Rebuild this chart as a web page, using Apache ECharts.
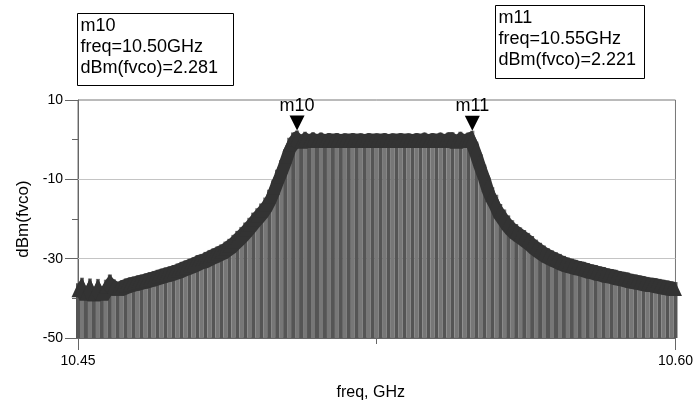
<!DOCTYPE html>
<html>
<head>
<meta charset="utf-8">
<script src="https://cdn.jsdelivr.net/npm/echarts@6/dist/echarts.min.js"></script>
<style>
  html, body { margin: 0; padding: 0; background: #fff; }
  #chart { width: 696px; height: 410px; }
</style>
</head>
<body>
<div id="chart"></div>
<script>
// spectrum, one point per MHz from 10.450 to 10.600 GHz
const freqStart = 10.45;
const freqStep = 0.001;
const dbm = [
  -36.2, -34.8, -37.0, -35.0, -37.2, -35.1, -37.0, -35.3, -34.0, -35.2,
  -35.8, -35.4, -35.0, -34.7, -34.5, -34.2, -34.0, -33.7, -33.4, -33.1,
  -32.8, -32.5, -32.2, -31.9, -31.6, -31.2, -30.8, -30.4, -30.0, -29.6,
  -29.1, -28.8, -28.3, -27.8, -27.4, -26.9, -26.4, -25.7, -25.0, -24.0,
  -23.0, -22.0, -20.9, -19.7, -18.4, -17.3, -16.1, -14.6, -12.6, -10.2,
  -7.6, -5.1, -2.5, 0.5, 1.8, 2.28, 1.3, 2.0, 1.4, 1.9,
  1.4, 1.8, 1.4, 1.7, 1.5, 1.7, 1.4, 1.6, 1.5, 1.7,
  1.5, 1.6, 1.4, 1.7, 1.5, 1.6, 1.5, 1.7, 1.4, 1.6,
  1.5, 1.7, 1.5, 1.6, 1.4, 1.7, 1.5, 1.8, 1.4, 1.7,
  1.5, 1.8, 1.4, 1.9, 1.9, 1.3, 2.0, 1.4, 1.8, 2.22,
  -0.5, -3.6, -6.3, -9.6, -12.0, -13.9, -16.2, -17.6, -19.1, -20.3,
  -21.3, -22.1, -22.8, -23.5, -24.3, -25.2, -26.0, -26.7, -27.4, -27.9,
  -28.4, -28.8, -29.3, -29.7, -30.0, -30.3, -30.6, -30.8, -31.1, -31.4,
  -31.6, -31.9, -32.1, -32.4, -32.6, -32.8, -33.1, -33.3, -33.5, -33.8,
  -34.0, -34.2, -34.4, -34.6, -34.8, -34.9, -35.1, -35.3, -35.5, -35.7, -35.9
];

// markers
const markerNames = ['m10', 'm11'];
const markerFreq = [10.505, 10.549];
const markerVal = [2.281, 2.221];
const markerText = [
  'm10\nfreq=10.50GHz\ndBm(fvco)=2.281',
  'm11\nfreq=10.55GHz\ndBm(fvco)=2.221'
];

// axes
const xMin = 10.45, xMax = 10.60;
const xLabelTicks = [10.45, 10.60];
const xMinorTicks = [10.525];
const yMin = -50, yMax = 10;
const yLabelTicks = [10, -10, -30, -50];
const yMinorTicks = [0, -20, -40];
const yGridLines = [-10, -30];

const FONT = '"Liberation Sans", Arial, sans-serif';
const TRI_W = 13, TRI_H = 14; // trace symbol size in px

const points = dbm.map((v, i) => [+(freqStart + i * freqStep).toFixed(3), v]);
// pairs of neighbouring points, so each item can sweep the symbol from one to the next
const segments = points.slice(0, -1).map((p, i) => [p[0], p[1], points[i + 1][0], points[i + 1][1]]);

const chart = echarts.init(document.getElementById('chart'));

function renderStem(params, api) {
  const top = api.coord([api.value(0), api.value(1)]);
  const base = api.coord([api.value(0), yMin]);
  return {
    type: 'line',
    shape: { x1: top[0], y1: top[1], x2: base[0], y2: base[1] },
    style: { stroke: params.dataIndex % 2 ? '#777' : '#555', lineWidth: 4 }
  };
}

function convexHull(pts) {
  pts = pts.slice().sort((a, b) => a[0] - b[0] || a[1] - b[1]);
  const cross = (o, a, b) => (a[0] - o[0]) * (b[1] - o[1]) - (a[1] - o[1]) * (b[0] - o[0]);
  const lower = [], upper = [];
  for (const p of pts) {
    while (lower.length >= 2 && cross(lower[lower.length - 2], lower[lower.length - 1], p) <= 0) lower.pop();
    lower.push(p);
  }
  for (let i = pts.length - 1; i >= 0; i--) {
    const p = pts[i];
    while (upper.length >= 2 && cross(upper[upper.length - 2], upper[upper.length - 1], p) <= 0) upper.pop();
    upper.push(p);
  }
  return lower.slice(0, -1).concat(upper.slice(0, -1));
}

// triangle symbols hanging from every point, merged along the trace
function renderBand(params, api) {
  const a = api.coord([api.value(0), api.value(1)]);
  const b = api.coord([api.value(2), api.value(3)]);
  const tri = p => [[p[0], p[1]], [p[0] - TRI_W / 2, p[1] + TRI_H], [p[0] + TRI_W / 2, p[1] + TRI_H]];
  return {
    type: 'polygon',
    shape: { points: convexHull(tri(a).concat(tri(b))) },
    style: { fill: '#333' }
  };
}

const option = {
  animation: false,
  backgroundColor: '#fff',
  textStyle: { fontFamily: FONT },
  grid: {
    left: 78, right: 19, top: 100, bottom: 72,
    show: true, borderColor: '#777', borderWidth: 1
  },
  xAxis: [
    {
      type: 'value', min: xMin, max: xMax,
      name: 'freq, GHz', nameLocation: 'middle', nameGap: 47,
      nameTextStyle: { fontSize: 16, color: '#000', fontFamily: FONT, padding: [0, 12, 0, 0] },
      axisLine: { show: true, onZero: false, lineStyle: { color: '#666' } },
      axisTick: { show: true, customValues: xLabelTicks, length: 12, lineStyle: { color: '#666' } },
      axisLabel: {
        customValues: xLabelTicks, margin: 16, fontSize: 14, color: '#000', fontFamily: FONT,
        formatter: v => v.toFixed(2)
      },
      splitLine: { show: false }
    },
    {
      type: 'value', min: xMin, max: xMax, position: 'bottom',
      axisLine: { show: false, onZero: false },
      axisTick: { show: true, customValues: xMinorTicks, length: 6, lineStyle: { color: '#666' } },
      axisLabel: { show: false },
      splitLine: { show: false }
    }
  ],
  yAxis: [
    {
      type: 'value', min: yMin, max: yMax, interval: 10,
      name: 'dBm(fvco)', nameLocation: 'middle', nameGap: 46,
      nameTextStyle: { fontSize: 17, color: '#000', fontFamily: FONT },
      axisLine: { show: true, onZero: false, lineStyle: { color: '#666' } },
      axisTick: { show: true, customValues: yLabelTicks, length: 13, lineStyle: { color: '#666' } },
      axisLabel: { customValues: yLabelTicks, margin: 15, fontSize: 14, color: '#000', fontFamily: FONT },
      splitLine: { show: false }
    },
    {
      type: 'value', min: yMin, max: yMax, position: 'left',
      axisLine: { show: false, onZero: false },
      axisTick: { show: true, customValues: yMinorTicks, length: 6, lineStyle: { color: '#666' } },
      axisLabel: { show: false },
      splitLine: { show: false }
    }
  ],
  series: [
    {
      type: 'custom',
      renderItem: renderStem,
      data: points,
      z: 2,
      markLine: {
        silent: true,
        symbol: ['none', 'none'],
        label: { show: false },
        lineStyle: { color: '#c4c4c4', type: 'solid', width: 1 },
        data: yGridLines.map(v => ({ yAxis: v })),
        z: 1
      }
    },
    {
      type: 'custom',
      renderItem: renderBand,
      data: segments,
      encode: { x: [0, 2], y: [1, 3] },
      clip: false,
      z: 3
    },
    {
      type: 'scatter',
      data: markerFreq.map((f, i) => ({ name: markerNames[i], value: [f, markerVal[i]] })),
      symbol: 'triangle',
      symbolRotate: 180,
      symbolSize: [15, 15],
      symbolOffset: [0, -7.5],
      itemStyle: { color: '#000', opacity: 1 },
      label: {
        show: true, position: 'top', distance: 1,
        formatter: p => p.name,
        fontSize: 18, color: '#000', fontFamily: FONT
      },
      clip: false,
      z: 5
    }
  ],
  graphic: [
    {
      type: 'group', left: 77, top: 13,
      children: [
        { type: 'rect', shape: { x: 0, y: 0, width: 156, height: 72 }, style: { fill: '#fff', stroke: '#000', lineWidth: 1 } },
        { type: 'text', x: 3, y: 2, style: { text: markerText[0], font: '18px ' + FONT, lineHeight: 21, fill: '#000' } }
      ]
    },
    {
      type: 'group', left: 495, top: 5,
      children: [
        { type: 'rect', shape: { x: 0, y: 0, width: 149, height: 73 }, style: { fill: '#fff', stroke: '#000', lineWidth: 1 } },
        { type: 'text', x: 3, y: 2, style: { text: markerText[1], font: '18px ' + FONT, lineHeight: 21, fill: '#000' } }
      ]
    }
  ]
};

chart.setOption(option);
</script>
</body>
</html>
